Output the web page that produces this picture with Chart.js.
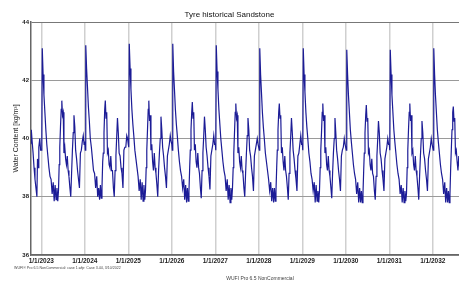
<!DOCTYPE html>
<html>
<head>
<meta charset="utf-8">
<script src="https://cdn.jsdelivr.net/npm/chart.js@4/dist/chart.umd.min.js"></script>
<style>
html,body{margin:0;padding:0;background:#fff;}
#wrap{width:459px;height:282px;position:relative;}
</style>
</head>
<body>
<div id="wrap"><canvas id="c" width="459" height="282"></canvas></div>
<script>
// Tick labels / years
const yearTicks = [2023, 2024, 2025, 2026, 2027, 2028, 2029, 2030, 2031, 2032];
const yTicks = [36, 38, 40, 42, 44];

// Day-of-year sample positions shared by each year
const days = [0, 4, 8, 15, 22, 30, 38, 46, 55, 64, 73, 82, 91, 100, 108, 116, 124, 131, 138, 144, 150, 155, 161, 167, 172, 178, 184, 190, 197, 204, 211, 218, 225, 232, 240, 247, 254, 261, 268, 274, 281, 288, 296, 304, 312, 320, 328, 336, 344, 352, 359];

// Tail of 2022 (start of simulation)
const days2022 = [278, 281, 288, 296, 304, 312, 320, 328, 333, 338, 344, 352, 359];
const wc2022 = [39.8, 40.3, 39.9, 39.5, 39.0, 38.6, 38.3, 38.0, 39.3, 39.0, 39.7, 40.0, 39.6];

// Water content [kg/m3] per year
const wc2023 = [39.6, 39.7, 43.1, 42.2, 41.5, 40.9, 40.3, 39.8, 39.4, 39.0, 38.7, 38.6, 38.1, 38.5, 37.85, 38.4, 37.9, 38.3, 37.85, 38.2, 39.1, 39.7, 40.4, 41.0, 41.3, 40.8, 40.9, 39.5, 39.7, 39.3, 39.1, 39.4, 38.9, 38.7, 38.3, 38.0, 38.8, 39.6, 40.2, 40.8, 40.4, 39.6, 39.3, 38.9, 38.6, 38.3, 39.5, 39.6, 39.9, 40.1, 39.8];
const wc2024 = [39.9, 39.6, 43.2, 42.4, 41.8, 41.1, 40.6, 40.0, 39.7, 39.3, 38.9, 38.8, 38.3, 38.7, 38.0, 38.3, 37.9, 38.4, 37.95, 38.3, 39.2, 39.5, 40.2, 41.0, 41.3, 40.7, 40.9, 39.5, 39.6, 39.1, 39.0, 39.4, 38.9, 38.9, 38.3, 38.0, 38.9, 39.4, 40.1, 40.7, 40.2, 39.5, 39.4, 39.0, 38.8, 38.3, 39.6, 39.7, 39.7, 40.1, 40.0];
const wc2025 = [39.8, 39.7, 43.25, 42.4, 41.7, 41.0, 40.5, 40.1, 39.6, 39.3, 39.0, 38.7, 38.2, 38.6, 37.9, 38.5, 37.85, 38.4, 37.9, 38.2, 39.0, 39.6, 40.3, 41.0, 41.3, 40.6, 40.8, 39.6, 39.8, 39.2, 38.9, 39.5, 39.0, 38.8, 38.4, 38.0, 38.9, 39.5, 40.0, 40.75, 40.3, 39.7, 39.4, 39.0, 38.7, 38.3, 39.4, 39.6, 39.8, 40.1, 39.9];
const wc2026 = [39.8, 39.6, 43.25, 42.3, 41.7, 41.0, 40.5, 40.1, 39.6, 39.2, 38.9, 38.7, 38.3, 38.6, 37.9, 38.4, 37.8, 38.3, 37.85, 38.2, 39.0, 39.6, 40.3, 40.9, 41.25, 40.7, 40.9, 39.6, 39.8, 39.2, 39.0, 39.5, 39.0, 38.8, 38.3, 37.95, 38.9, 39.5, 40.1, 40.75, 40.3, 39.7, 39.4, 39.0, 38.7, 38.25, 39.4, 39.6, 39.8, 40.1, 39.8];
const wc2027 = [39.8, 39.6, 43.2, 42.3, 41.7, 41.0, 40.5, 40.0, 39.6, 39.2, 38.9, 38.7, 38.2, 38.6, 37.9, 38.4, 37.8, 38.3, 37.9, 38.3, 39.0, 39.5, 40.2, 40.9, 41.2, 40.7, 40.8, 39.5, 39.7, 39.2, 39.0, 39.4, 38.9, 38.8, 38.3, 38.0, 38.8, 39.5, 40.1, 40.7, 40.3, 39.6, 39.4, 39.0, 38.7, 38.2, 39.4, 39.6, 39.8, 40.0, 39.8];
const wc2028 = [39.8, 39.6, 43.1, 42.2, 41.6, 40.9, 40.4, 40.0, 39.5, 39.2, 38.9, 38.6, 38.2, 38.5, 37.85, 38.3, 37.8, 38.3, 37.85, 38.2, 39.0, 39.6, 40.3, 40.9, 41.2, 40.7, 40.8, 39.5, 39.7, 39.2, 38.9, 39.4, 38.9, 38.7, 38.3, 37.9, 38.8, 39.5, 40.1, 40.7, 40.2, 39.6, 39.3, 38.9, 38.6, 38.2, 39.4, 39.5, 39.8, 40.1, 39.8];
const wc2029 = [39.8, 39.6, 43.1, 42.2, 41.6, 40.9, 40.4, 40.0, 39.5, 39.2, 38.8, 38.6, 38.2, 38.5, 37.8, 38.4, 37.85, 38.2, 37.8, 38.2, 39.0, 39.6, 40.2, 40.9, 41.2, 40.6, 40.8, 39.5, 39.7, 39.1, 38.9, 39.4, 38.9, 38.7, 38.3, 37.95, 38.8, 39.5, 40.0, 40.7, 40.2, 39.6, 39.3, 38.9, 38.6, 38.2, 39.4, 39.6, 39.7, 40.0, 39.8];
const wc2030 = [39.8, 39.6, 43.05, 42.2, 41.5, 40.9, 40.3, 39.9, 39.5, 39.1, 38.8, 38.6, 38.1, 38.5, 37.8, 38.3, 37.8, 38.2, 37.8, 38.1, 38.9, 39.5, 40.2, 40.8, 41.15, 40.6, 40.7, 39.5, 39.6, 39.1, 38.9, 39.3, 38.8, 38.7, 38.2, 37.9, 38.7, 39.4, 40.0, 40.6, 40.2, 39.5, 39.3, 38.9, 38.6, 38.2, 39.3, 39.5, 39.7, 40.0, 39.8];
const wc2031 = [39.8, 39.6, 43.05, 42.2, 41.5, 40.9, 40.3, 39.9, 39.5, 39.1, 38.8, 38.6, 38.1, 38.4, 37.8, 38.3, 37.8, 38.2, 37.85, 38.1, 39.0, 39.6, 40.3, 40.9, 41.2, 40.6, 40.8, 39.5, 39.6, 39.1, 38.9, 39.4, 38.9, 38.7, 38.3, 37.9, 38.7, 39.4, 40.0, 40.6, 40.2, 39.5, 39.3, 38.9, 38.6, 38.2, 39.3, 39.5, 39.7, 40.0, 39.8];
const wc2032 = [39.8, 39.6, 43.1, 42.2, 41.5, 40.9, 40.3, 39.9, 39.5, 39.1, 38.8, 38.6, 38.1, 38.5, 37.8, 38.3, 37.8, 38.2, 37.8, 38.1, 39.0, 39.6, 40.3, 40.9, 41.1, 40.6, 40.7, 39.5, 39.6, 39.2, 38.9, 39.4, 39.0];

const chartTitle = 'Tyre historical Sandstone';
const yTitle = 'Water Content [kg/m³]';
const footLeft = 'WUFI\u00AE Pro 6.5 NonCommercial: case 1.wfp: Case 3.44, 3/10/2022';
const footCenter = 'WUFI Pro 6.5 NonCommercial';

// Build points (x in decimal years)
const points = [];
days2022.forEach((d, i) => points.push({x: 2022 + d / 365, y: wc2022[i]}));
const yearSeries = [[2023, wc2023], [2024, wc2024], [2025, wc2025], [2026, wc2026], [2027, wc2027], [2028, wc2028], [2029, wc2029], [2030, wc2030], [2031, wc2031], [2032, wc2032]];
yearSeries.forEach(([yr, vals]) => {
  vals.forEach((v, i) => points.push({x: yr + days[i] / 365, y: v}));
});

const footerPlugin = {
  id: 'footer',
  afterDraw(chart) {
    const ctx = chart.ctx;
    ctx.save();
    ctx.fillStyle = '#444';
    ctx.textBaseline = 'middle';
    ctx.textAlign = 'left';
    ctx.font = '3.6px "Liberation Sans", Arial, sans-serif';
    ctx.fillText(footLeft, 14, 268);
    ctx.textAlign = 'center';
    ctx.font = '5px "Liberation Sans", Arial, sans-serif';
    ctx.fillText(footCenter, 260, 279);
    ctx.restore();
  }
};

new Chart(document.getElementById('c'), {
  type: 'line',
  data: {
    datasets: [{
      data: points,
      borderColor: '#1c1c96',
      borderWidth: 1.2,
      pointRadius: 0,
      tension: 0,
      fill: false
    }]
  },
  options: {
    responsive: false,
    animation: false,
    devicePixelRatio: 1,
    layout: {padding: {left: 0, right: 0, top: 0, bottom: 0}},
    plugins: {
      legend: {display: false},
      tooltip: {enabled: false},
      title: {
        display: true,
        text: chartTitle,
        color: '#111',
        font: {family: '"Liberation Sans", Arial, sans-serif', size: 8, weight: 'normal'},
        padding: {top: 10, bottom: 2.4}
      }
    },
    scales: {
      x: {
        type: 'linear',
        min: 2022.763,
        max: 2032.602,
        afterBuildTicks: s => { s.ticks = yearTicks.map(v => ({value: v})); },
        afterFit: s => { s.height = 27; },
        grid: {color: '#cfcfcf', lineWidth: 1.5, drawTicks: false},
        border: {color: '#666', width: 1.5},
        ticks: {
          autoSkip: false,
          maxRotation: 0,
          padding: 2,
          color: '#222',
          font: {family: '"Liberation Sans", Arial, sans-serif', size: 6.5, weight: 'bold'},
          callback: v => '1/1/' + v
        }
      },
      y: {
        min: 36,
        max: 44,
        afterBuildTicks: s => { s.ticks = yTicks.map(v => ({value: v})); },
        afterFit: s => { s.width = 31; },
        grid: {color: ctx => (ctx.tick && ctx.tick.value === 44) ? '#777' : '#9a9a9a', lineWidth: 1, drawTicks: false},
        border: {color: '#666', width: 1.5},
        title: {
          display: true,
          text: yTitle,
          color: '#222',
          font: {family: '"Liberation Sans", Arial, sans-serif', size: 7},
          padding: {top: 12, bottom: 0}
        },
        ticks: {
          padding: 2,
          color: '#222',
          font: {family: '"Liberation Sans", Arial, sans-serif', size: 6, weight: 'bold'}
        }
      }
    }
  },
  plugins: [footerPlugin]
});
</script>
</body>
</html>
